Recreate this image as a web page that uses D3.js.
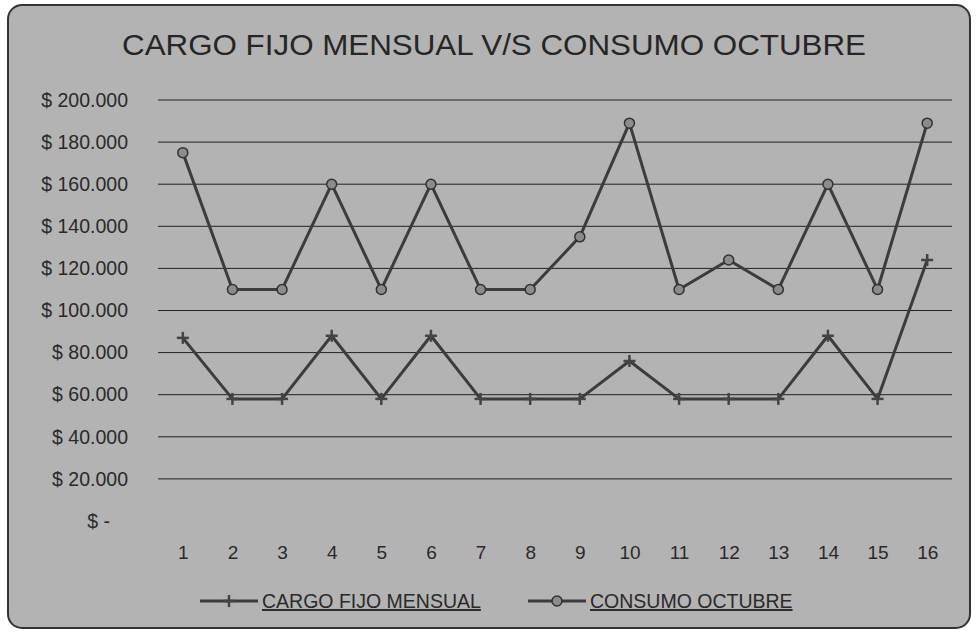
<!DOCTYPE html>
<html>
<head>
<meta charset="utf-8">
<script src="https://cdn.jsdelivr.net/npm/d3@7"></script>
<style>
    body { margin: 0; background: #fff; }
    text { font-family: "Liberation Sans", sans-serif; fill: #2a2a2a; }
</style>
</head>
<body>
<svg id="chart"></svg>
<script>
const width = 976, height = 635
const margin = {
    top: 100,
    bottom: 114,
    left: 158,
    right: 24,
}

// data
const days = ["1", "2", "3", "4", "5", "6", "7", "8", "9", "10", "11", "12", "13", "14", "15", "16"]
const cargoFijo = [87000, 58000, 58000, 88000, 58000, 88000, 58000, 58000, 58000, 76000, 58000, 58000, 58000, 88000, 58000, 124000]
const consumoOctubre = [175000, 110000, 110000, 160000, 110000, 160000, 110000, 110000, 135000, 189000, 110000, 124000, 110000, 160000, 110000, 189000]
const yTicks = [0, 20000, 40000, 60000, 80000, 100000, 120000, 140000, 160000, 180000, 200000]
const seriesNames = ["CARGO FIJO MENSUAL", "CONSUMO OCTUBRE"]

const svg = d3.select("svg#chart")
    .attr("viewBox", [0, 0, width, height])
    .attr("width", width)
    .attr("height", height)

// chart area
svg.append("rect")
    .attr("x", 8).attr("y", 5)
    .attr("width", 962).attr("height", 623)
    .attr("rx", 14)
    .attr("fill", "#b3b3b3")
    .attr("stroke", "#333")
    .attr("stroke-width", 2)

svg.append("text")
    .attr("x", 494).attr("y", 55)
    .attr("text-anchor", "middle")
    .attr("font-size", 30)
    .attr("textLength", 744)
    .attr("lengthAdjust", "spacingAndGlyphs")
    .style("fill", "#262626")
    .text("CARGO FIJO MENSUAL V/S CONSUMO OCTUBRE")

const xScale = d3.scalePoint()
    .domain(days)
    .range([margin.left, width - margin.right])
    .padding(0.5)

const yScale = d3.scaleLinear()
    .domain([0, 200000])
    .range([height - margin.bottom, margin.top])

const fmt = d => d === 0 ? "$ -" : "$ " + d3.format(",")(d).replace(/,/g, ".")

// grid lines
svg.append("g").classed("grid", true)
    .selectAll("line")
    .data(yTicks.filter(d => d > 0))
    .enter()
    .append("line")
    .attr("x1", margin.left)
    .attr("x2", width - margin.right)
    .attr("y1", d => yScale(d))
    .attr("y2", d => yScale(d))
    .attr("stroke", "#222")
    .attr("stroke-width", 1)

// Y axis
const yAxis = svg.append("g").classed("y-axis", true)
    .attr("transform", `translate(${margin.left - 30}, 0)`)
    .call(d3.axisLeft(yScale).tickValues(yTicks).tickFormat(fmt).tickSize(0))
yAxis.select(".domain").remove()
yAxis.selectAll("text")
    .attr("font-size", 19.5)
    .attr("x", 0)
    .attr("dx", d => d === 0 ? -18 : 0)

// X axis
const xAxis = svg.append("g").classed("x-axis", true)
    .attr("transform", `translate(0, ${height - margin.bottom})`)
    .call(d3.axisBottom(xScale).tickSize(0))
xAxis.select(".domain").remove()
xAxis.selectAll("text")
    .attr("font-size", 19)
    .attr("y", 25)

// lines
const line = d3.line()
    .x((d, i) => xScale(days[i]))
    .y(d => yScale(d))

const seriesData = [cargoFijo, consumoOctubre]

svg.selectAll("path.series")
    .data(seriesData)
    .enter()
    .append("path").classed("series", true)
    .attr("d", line)
    .attr("fill", "none")
    .attr("stroke", "#3c3c3c")
    .attr("stroke-width", 3)
    .attr("stroke-linejoin", "round")

function plusMarker(g, x, y) {
    g.append("line")
        .attr("x1", x).attr("x2", x)
        .attr("y1", y - 6).attr("y2", y + 6)
        .attr("stroke", "#444").attr("stroke-width", 2.5)
    g.append("line")
        .attr("x1", x - 6).attr("x2", x + 6)
        .attr("y1", y).attr("y2", y)
        .attr("stroke", "#444").attr("stroke-width", 2.5)
}

function circleMarker(g, x, y) {
    g.append("circle")
        .attr("cx", x).attr("cy", y)
        .attr("r", 5)
        .attr("fill", "#8c8c8c")
        .attr("stroke", "#333")
        .attr("stroke-width", 1.5)
}

const markers = svg.append("g").classed("markers", true)
cargoFijo.forEach((v, i) => plusMarker(markers, xScale(days[i]), yScale(v)))
consumoOctubre.forEach((v, i) => circleMarker(markers, xScale(days[i]), yScale(v)))

// legend
const legendY = 601
const legend = [
    {name: seriesNames[0], x: 200, marker: plusMarker},
    {name: seriesNames[1], x: 528, marker: circleMarker},
]
legend.forEach(d => {
    const g = svg.append("g").classed("legend", true)
    g.append("line")
        .attr("x1", d.x).attr("x2", d.x + 58)
        .attr("y1", legendY).attr("y2", legendY)
        .attr("stroke", "#3c3c3c").attr("stroke-width", 3)
    d.marker(g, d.x + 29, legendY)
    g.append("text")
        .attr("x", d.x + 62).attr("y", legendY + 7)
        .attr("font-size", 19.5)
        .style("text-decoration", "underline")
        .text(d.name)
})
</script>
</body>
</html>
